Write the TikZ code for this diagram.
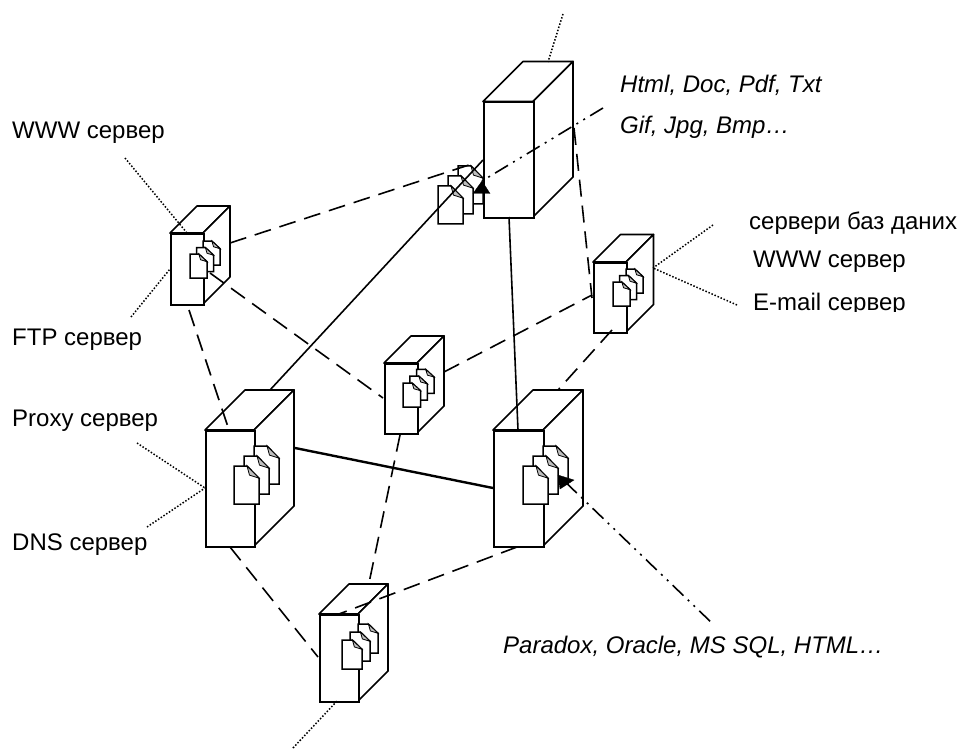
\documentclass[tikz,border=0pt]{standalone}
\usepackage{fontspec}
\setmainfont{Liberation Sans}
\usetikzlibrary{calc}
\definecolor{foldgrey}{gray}{0.75}
\tikzset{
  x=1pt,y=-1pt,
  box/.style={draw=black,fill=white,line width=1.7pt,line join=miter},
  face/.style={draw=black,fill=white,line width=1.7pt,line join=round},
  docline/.style={draw=black,fill=white,line width=1.5pt},
  dashlink/.style={draw=black,line width=1.6pt,dash pattern=on 17pt off 9pt},
  solidlink/.style={draw=black,line width=1.6pt},
  thicklink/.style={draw=black,line width=2.4pt},
  dotlink/.style={draw=black,line width=1.5pt,dash pattern=on 1.5pt off 1.8pt},
  dotdash/.style={draw=black,line width=1.6pt,dash pattern=on 15pt off 6pt on 2pt off 6pt on 2pt off 6pt},
  tiphead/.style={draw=black,fill=black,line width=0.3pt},
  lab/.style={anchor=west,inner sep=0pt,font=\fontsize{24}{28}\selectfont},
  ilab/.style={anchor=west,inner sep=0pt,font=\fontsize{24}{28}\selectfont\itshape},
}
% #1 name, #2 x0, #3 y0 (front top-left), #4 w, #5 h, #6 depth
\newcommand{\srvbody}[6]{%
  \fill[white] (#2+#6,#3-#6) rectangle (#2+#4+#6,#3+#5-#6);
  \draw[face] (#2,#3) -- (#2+#6,#3-#6) -- (#2+#4+#6,#3-#6) -- (#2+#4,#3) -- cycle;
  \draw[face] (#2+#4,#3) -- (#2+#4+#6,#3-#6) -- (#2+#4+#6,#3+#5-#6) -- (#2+#4,#3+#5) -- cycle;
  \node[box,minimum width=#4pt,minimum height=#5pt,inner sep=0pt,anchor=north west] (#1) at (#2,#3) {};
}
% #1 x, #2 y, #3 w, #4 h
\newcommand{\onedoc}[4]{%
  \draw[docline] (#1,#2) -- (#1+0.52*#3,#2) -- (#1+#3,#2+0.32*#4) -- (#1+#3,#2+#4) -- (#1,#2+#4) -- cycle;
  \fill[foldgrey,draw=black,line width=0.8pt] (#1+0.52*#3,#2) -- (#1+#3,#2+0.32*#4) -- (#1+0.62*#3,#2+0.24*#4) -- cycle;
}
% #1 x front, #2 y front, #3 w, #4 h, #5 offset
\newcommand{\docstack}[5]{%
  \onedoc{#1+2*#5}{#2-2*#5}{#3}{#4}
  \onedoc{#1+#5}{#2-#5}{#3}{#4}
  \onedoc{#1}{#2}{#3}{#4}
}
\begin{document}
\begin{tikzpicture}
\useasboundingbox (0,0) rectangle (962,749);
% top server: documents lie behind its front face
\docstack{438}{186}{25}{38}{10}
\srvbody{top}{483}{101.5}{50}{115.5}{40}
% other servers
\srvbody{leftsrv}{170}{233}{33}{71}{27}
\docstack{190}{254}{17}{24}{6.5}
\srvbody{proxy}{205}{430}{49}{116}{40}
\docstack{234}{466}{25}{38}{10}
\srvbody{db}{493}{430}{50}{116}{40}
\docstack{523}{466}{25}{38}{10}
\srvbody{central}{384}{363}{33}{70}{27}
\docstack{403}{383}{17.5}{24}{6.8}
\srvbody{rightsrv}{593}{262}{33}{70}{27.5}
\docstack{613}{282}{17}{24}{6.5}
\srvbody{bottom}{319}{614}{39}{87}{30}
\docstack{342}{640}{20}{29}{8}
% connector ends
\coordinate (tA) at (509,217);
\coordinate (tB) at (574,128);
\coordinate (tDoc) at (475,163);
\coordinate (tTip) at (482,181);
\coordinate (tLine) at (483,160);
\coordinate (lA) at (230,243);
\coordinate (lB) at (210,273);
\coordinate (lC) at (189,310);
\coordinate (pA) at (229,430);
\coordinate (pB) at (270,390);
\coordinate (pC) at (295,448);
\coordinate (pD) at (230,547);
\coordinate (dA) at (518,430);
\coordinate (dB) at (493,488);
\coordinate (dC) at (558,390);
\coordinate (dD) at (517,547);
\coordinate (dTip) at (558,475);
\coordinate (cA) at (383,398);
\coordinate (cB) at (444,372);
\coordinate (cC) at (400,435);
\coordinate (rA) at (592,295);
\coordinate (rB) at (592,298);
\coordinate (rC) at (612,330);
\coordinate (bA) at (369,583);
\coordinate (bB) at (318,657);
\coordinate (bC) at (339,614);
% connectors
\draw[dashlink] (lA) -- (tDoc);
\draw[dashlink] (lB) -- (cA);
\draw[dashlink] (lC) -- (pA);
\draw[dashlink] (cB) -- (rA);
\draw[dashlink] (tB) -- (rB);
\draw[dashlink] (rC) -- (dC);
\draw[dashlink] (cC) -- (bA);
\draw[dashlink] (pD) -- (bB);
\draw[dashlink] (dD) -- (bC);
\draw[solidlink] (pB) -- (tLine);
\draw[solidlink] (tA) -- (dA);
\draw[thicklink] (pC) -- (dB);
% free ends
\coordinate (fTopDD) at (603,108);
\coordinate (fDbDD) at (714,625);
\coordinate (fTop) at (563,14);
\coordinate (tTopEdge) at (548,62);
\coordinate (fW) at (125,158);
\coordinate (lW) at (187,233);
\coordinate (fF) at (131,317);
\coordinate (lF) at (170,269);
\coordinate (fP) at (137,443);
\coordinate (fD) at (147,527);
\coordinate (pLeft) at (205,488);
\coordinate (fR1) at (713,225);
\coordinate (fR2) at (737,305);
\coordinate (rApex) at (653,268);
\coordinate (fB) at (293,748);
\coordinate (bEdge) at (337,701);
\draw[dotdash] (fTopDD) -- (tTip);
\draw[dotdash,dash phase=26pt] (dTip) -- (fDbDD);
\fill[tiphead] (tTip) -- (473,193.5) -- (490,193.5) -- cycle;
\fill[tiphead] (dTip) -- (560,489) -- (574,480) -- cycle;
\draw[dotlink] (fTop) -- (tTopEdge);
\draw[dotlink] (fW) -- (lW);
\draw[dotlink] (fF) -- (lF);
\draw[dotlink] (fP) -- (pLeft);
\draw[dotlink] (fD) -- (pLeft);
\draw[dotlink] (fR1) -- (rApex);
\draw[dotlink] (fR2) -- (rApex);
\draw[dotlink] (fB) -- (bEdge);
% labels
\node[lab] (tWWW) at (12,133) {WWW сервер};
\node[lab] (tFTP) at (12,340) {FTP сервер};
\node[lab] (tProxy) at (12,421) {Proxy сервер};
\node[lab] (tDNS) at (12,545) {DNS сервер};
\node[lab] (tBase) at (749,223) {сервери баз даних};
\node[lab] (tWWWr) at (753,262) {WWW сервер};
\begin{scope}
\clip (740,285) rectangle (962,311);
\node[lab] (tMail) at (753,304) {E-mail сервер};
\end{scope}
\node[ilab] (tHtml) at (620,85) {Html, Doc, Pdf, Txt};
\node[ilab] (tGif) at (620,127) {Gif, Jpg, Bmp…};
\node[ilab] (tPara) at (503,647) {Paradox, Oracle, MS SQL, HTML…};
\end{tikzpicture}
\end{document}
